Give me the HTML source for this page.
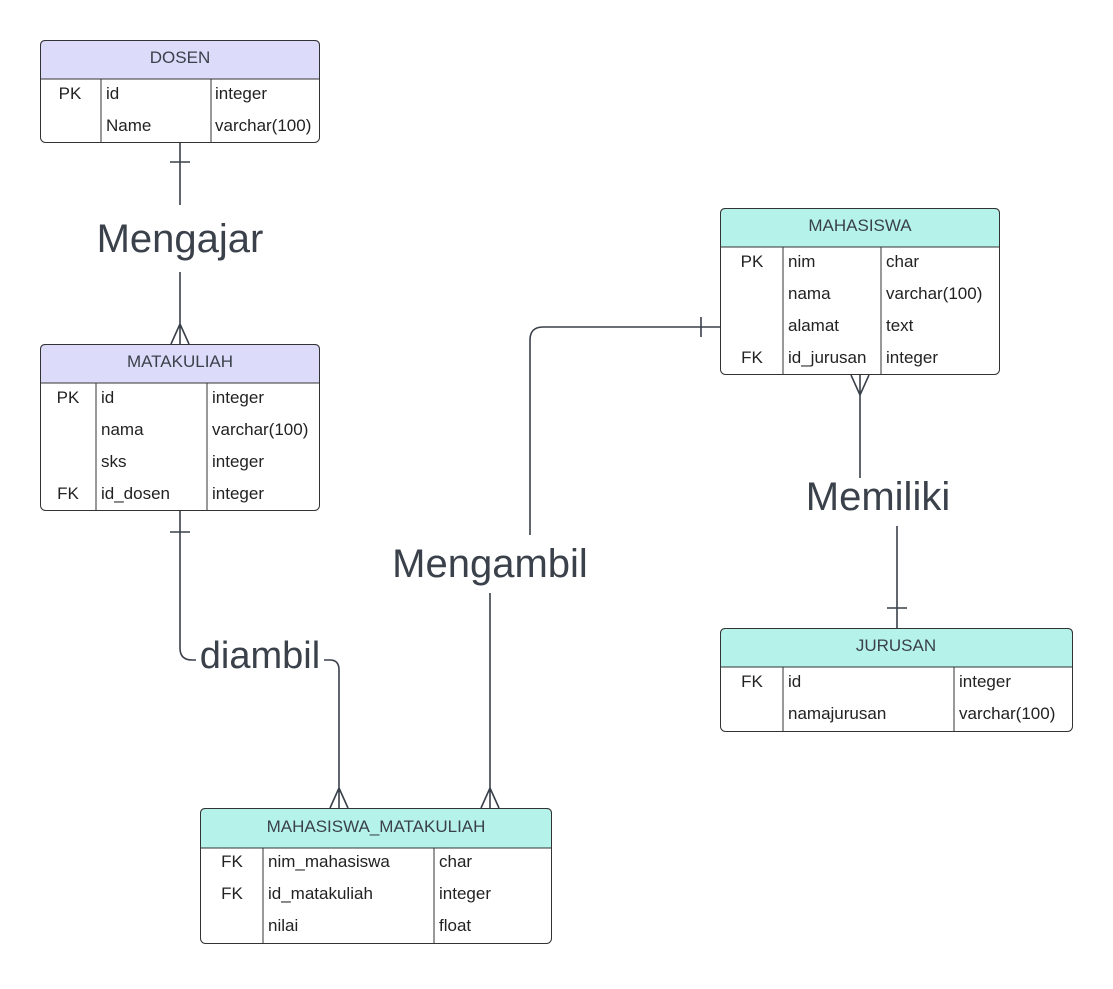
<!DOCTYPE html>
<html><head><meta charset="utf-8"><style>
html,body{margin:0;padding:0;background:#fff;}
svg text{font-family:"Liberation Sans",Arial,sans-serif;}
</style></head><body>
<svg width="1113" height="984" viewBox="0 0 1113 984" xmlns="http://www.w3.org/2000/svg">
<rect width="1113" height="984" fill="#fff"/>
<g fill="none" stroke="#3a414a" stroke-width="1.6">
<!-- DOSEN-MATAKULIAH -->
<path d="M180 143V205M180 272V344M170 162H190M180 324L171 344M180 324L189 344"/>
<!-- MATAKULIAH-MM -->
<path d="M180 511V648Q180 660 192 660H196M170 532H190"/>
<path d="M324 660H330Q339 660 339 670V808M339 788L330 808M339 788L348 808"/>
<!-- Mengambil -->
<path d="M490 593V808M490 788L481 808M490 788L499 808"/>
<path d="M530 535V340Q530 327 543 327H720M701 317V337"/>
<!-- Memiliki -->
<path d="M860 375V478M860 395L851 375M860 395L869 375"/>
<path d="M897 526V628M887 608H907"/>
</g>
<g fill="#3a414a" text-anchor="middle">
<text x="180" y="252" font-size="40">Mengajar</text>
<text x="260" y="668" font-size="38">diambil</text>
<text x="490" y="577" font-size="40">Mengambil</text>
<text x="878" y="510" font-size="40">Memiliki</text>
</g>
<g font-size="17" fill="#222">
<!-- DOSEN -->
<rect x="40.5" y="40.5" width="279" height="102" rx="5" fill="#fff" stroke="#333"/>
<path d="M45.5 40.5H314.5Q319.5 40.5 319.5 45.5V79H40.5V45.5Q40.5 40.5 45.5 40.5Z" fill="#dcdcfa" stroke="#333"/>
<path d="M101 79V143M211 79V143" stroke="#333"/>
<text x="180" y="63" text-anchor="middle" fill="#3a414a">DOSEN</text>
<text x="70" y="99" text-anchor="middle">PK</text><text x="106" y="99">id</text><text x="215" y="99">integer</text>
<text x="106" y="131">Name</text><text x="215" y="131">varchar(100)</text>
<!-- MATAKULIAH -->
<rect x="40.5" y="344.5" width="279" height="166" rx="5" fill="#fff" stroke="#333"/>
<path d="M45.5 344.5H314.5Q319.5 344.5 319.5 349.5V383H40.5V349.5Q40.5 344.5 45.5 344.5Z" fill="#dcdcfa" stroke="#333"/>
<path d="M96 383V511M207 383V511" stroke="#333"/>
<text x="180" y="367" text-anchor="middle" fill="#3a414a">MATAKULIAH</text>
<text x="68" y="403" text-anchor="middle">PK</text><text x="101" y="403">id</text><text x="212" y="403">integer</text>
<text x="101" y="435">nama</text><text x="212" y="435">varchar(100)</text>
<text x="101" y="467">sks</text><text x="212" y="467">integer</text>
<text x="68" y="499" text-anchor="middle">FK</text><text x="101" y="499">id_dosen</text><text x="212" y="499">integer</text>
<!-- MAHASISWA -->
<rect x="720.5" y="208.5" width="279" height="166" rx="5" fill="#fff" stroke="#333"/>
<path d="M725.5 208.5H994.5Q999.5 208.5 999.5 213.5V247H720.5V213.5Q720.5 208.5 725.5 208.5Z" fill="#b5f2e9" stroke="#333"/>
<path d="M783 247V375M881 247V375" stroke="#333"/>
<text x="860" y="231" text-anchor="middle" fill="#3a414a">MAHASISWA</text>
<text x="752" y="267" text-anchor="middle">PK</text><text x="788" y="267">nim</text><text x="886" y="267">char</text>
<text x="788" y="299">nama</text><text x="886" y="299">varchar(100)</text>
<text x="788" y="331">alamat</text><text x="886" y="331">text</text>
<text x="752" y="363" text-anchor="middle">FK</text><text x="788" y="363">id_jurusan</text><text x="886" y="363">integer</text>
<!-- JURUSAN -->
<rect x="720.5" y="628.5" width="352" height="103" rx="5" fill="#fff" stroke="#333"/>
<path d="M725.5 628.5H1067.5Q1072.5 628.5 1072.5 633.5V667H720.5V633.5Q720.5 628.5 725.5 628.5Z" fill="#b5f2e9" stroke="#333"/>
<path d="M783 667V732M954 667V732" stroke="#333"/>
<text x="896" y="651" text-anchor="middle" fill="#3a414a">JURUSAN</text>
<text x="752" y="687" text-anchor="middle">FK</text><text x="788" y="687">id</text><text x="959" y="687">integer</text>
<text x="788" y="719">namajurusan</text><text x="959" y="719">varchar(100)</text>
<!-- MM -->
<rect x="200.5" y="808.5" width="351" height="135" rx="5" fill="#fff" stroke="#333"/>
<path d="M205.5 808.5H546.5Q551.5 808.5 551.5 813.5V848H200.5V813.5Q200.5 808.5 205.5 808.5Z" fill="#b5f2e9" stroke="#333"/>
<path d="M263 848V943M434 848V943" stroke="#333"/>
<text x="376" y="832" text-anchor="middle" fill="#3a414a">MAHASISWA_MATAKULIAH</text>
<text x="232" y="867" text-anchor="middle">FK</text><text x="268" y="867">nim_mahasiswa</text><text x="439" y="867">char</text>
<text x="232" y="899" text-anchor="middle">FK</text><text x="268" y="899">id_matakuliah</text><text x="439" y="899">integer</text>
<text x="268" y="931">nilai</text><text x="439" y="931">float</text>
</g>
</svg>
</body></html>
